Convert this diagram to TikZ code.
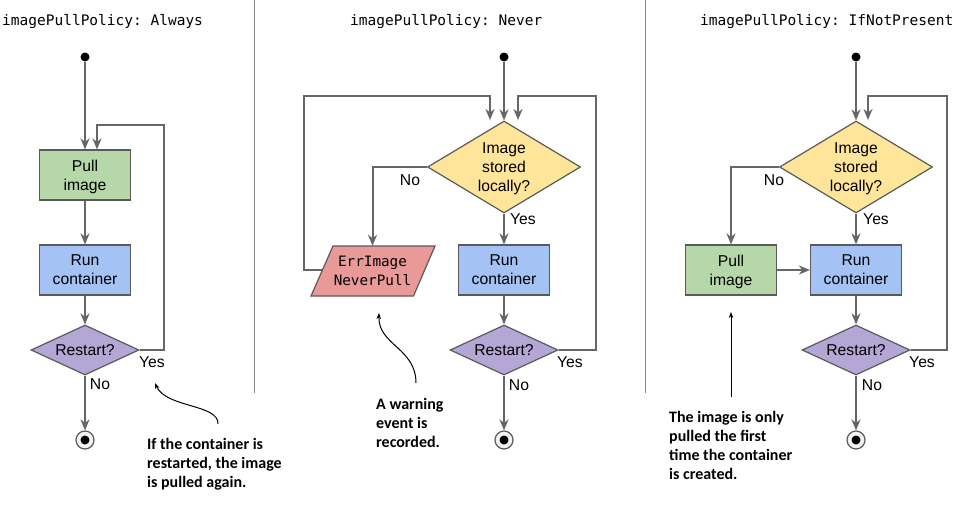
\documentclass[tikz,border=0pt]{standalone}
\usepackage{fontspec}
\setmainfont{Liberation Sans}
\newfontfamily\annfont{Carlito}
\setmonofont{DejaVu Sans Mono}
\usetikzlibrary{shapes.geometric,arrows.meta,calc,backgrounds}

\definecolor{linegray}{HTML}{666666}
\definecolor{bordergray}{HTML}{5A5A5A}
\definecolor{divgray}{HTML}{888888}
\definecolor{pullgreen}{HTML}{B6D7A8}
\definecolor{runblue}{HTML}{A4C2F4}
\definecolor{restartpurple}{HTML}{B4A7D6}
\definecolor{decyellow}{HTML}{FFE599}
\definecolor{errred}{HTML}{EA9999}
\definecolor{endfill}{HTML}{F3F3F3}

\begin{document}
\begin{tikzpicture}[x=1pt,y=-1pt,
  flow/.style={draw=linegray,line width=2pt,-{Stealth[length=11pt,width=9pt,inset=3.5pt]}},
  annarrow/.style={draw=black,line width=1pt,-{Stealth[length=6pt,width=4.5pt]}},
  labelfont/.style={font=\fontsize{15.7}{19}\selectfont},
  box/.style={rectangle,draw=bordergray,line width=1.2pt,minimum width=91pt,minimum height=50pt,inner sep=0pt,align=center,labelfont,text depth=0pt},
  dia/.style={diamond,draw=bordergray,line width=1.2pt,fill=restartpurple,shape aspect=2.16,minimum width=108pt,minimum height=50pt,inner sep=0pt,align=center,labelfont},
  ddec/.style={diamond,draw=bordergray,line width=1.2pt,fill=decyellow,shape aspect=1.66,minimum width=153pt,minimum height=92pt,inner sep=0pt,align=center,labelfont,text depth=0pt},
  startdot/.style={circle,fill=black,minimum size=9pt,inner sep=0pt},
  endc/.style={circle,draw=bordergray,line width=1.2pt,fill=endfill,minimum size=18pt,inner sep=0pt},
  lbl/.style={inner sep=0pt,labelfont},
  ann/.style={inner sep=0pt,align=left,anchor=north west,font=\annfont\bfseries\fontsize{16}{19}\selectfont},
  ptitle/.style={inner sep=0pt,anchor=west,font=\ttfamily\fontsize{14.5}{18}\selectfont},
  divider/.style={draw=divgray,line width=1pt}
]
\useasboundingbox (0,0) rectangle (960,506);

% titles and dividers
\node[ptitle] (t1) at (2,22) {imagePullPolicy: Always};
\node[ptitle] (t2) at (350,22) {imagePullPolicy: Never};
\node[ptitle] (t3) at (700,22) {imagePullPolicy: IfNotPresent};
\draw[divider] (254,0) -- (254,393);
\draw[divider] (645,0) -- (645,393);

% ---------- Panel 1 : Always ----------
\node[startdot] (s1) at (85,57) {};
\node[box,fill=pullgreen] (pull1) at (85,175) {Pull\\image};
\node[box,fill=runblue] (run1) at (85,270) {Run\\container};
\node[dia] (rs1) at (85,350) {Restart?};
\node[endc] (e1) at (85,440) {};
\fill[black] (e1.center) circle (4.5);
\coordinate (l1) at (164,125);
\draw[flow] (s1) -- (pull1);
\draw[flow] (pull1) -- (run1);
\draw[flow] (run1) -- (rs1);
\draw[flow] (rs1) -- (e1);
\draw[flow] (rs1.east) -| (l1) -| ([xshift=12pt]pull1.north);
\node[lbl] (y1) at (152,362) {Yes};
\node[lbl] (n1) at (100,384) {No};
\node[ann] (a1) at (147,438) {If the container is\\restarted, the image\\is pulled again.};
\coordinate (c1s) at (218,424);
\coordinate (c1e) at (155,383);
\draw[annarrow] (c1s) .. controls (219,404) and (166,408) .. (c1e);

% ---------- Panel 2 : Never ----------
\node[startdot] (s2) at (504,57) {};
\node[ddec] (d2) at (504,167) {Image\\stored\\locally?};
\node[inner sep=0pt,minimum width=102pt,minimum height=50pt,align=center,font=\ttfamily\fontsize{14.3}{19}\selectfont] (err) at (372.5,271) {ErrImage\\NeverPull};
\begin{scope}[on background layer]
\fill[white] (0,0) rectangle (960,506);
\filldraw[fill=errred,draw=bordergray,line width=1.2pt]
  ($(err.center)+(-39.5,-25)$) -- ($(err.center)+(62.5,-25)$) -- ($(err.center)+(41,25)$) -- ($(err.center)+(-61.5,25)$) -- cycle;
\end{scope}
\node[box,fill=runblue] (run2) at (504,270) {Run\\container};
\node[dia] (rs2) at (504,350) {Restart?};
\node[endc] (e2) at (504,440) {};
\fill[black] (e2.center) circle (4.5);
\coordinate (errL) at (322,270);
\coordinate (l2a) at (304,96);
\coordinate (l2b) at (490,120);
\coordinate (l2c) at (596,96);
\coordinate (l2d) at (518,120);
\draw[flow] (s2) -- (d2);
\draw[flow] (d2.west) -| (err.north);
\draw[flow] (d2) -- (run2);
\draw[flow] (run2) -- (rs2);
\draw[flow] (rs2) -- (e2);
\draw[flow] (errL) -| (l2a) -| (l2b);
\draw[flow] (rs2.east) -| (l2c) -| (l2d);
\node[lbl] (n2a) at (410,180) {No};
\node[lbl] (y2a) at (523,219) {Yes};
\node[lbl] (y2b) at (570,362) {Yes};
\node[lbl] (n2b) at (519,385) {No};
\node[ann] (a2) at (376,398) {A warning\\event is\\recorded.};
\coordinate (c2s) at (416,383);
\coordinate (c2e) at (379,313);
\draw[annarrow] (c2s) .. controls (416,348) and (378,345) .. (c2e);

% ---------- Panel 3 : IfNotPresent ----------
\node[startdot] (s3) at (856,57) {};
\node[ddec] (d3) at (856,167) {Image\\stored\\locally?};
\node[box,fill=pullgreen] (pull3) at (731,270) {Pull\\image};
\node[box,fill=runblue] (run3) at (856,270) {Run\\container};
\node[dia] (rs3) at (856,350) {Restart?};
\node[endc] (e3) at (856,440) {};
\fill[black] (e3.center) circle (4.5);
\coordinate (l3a) at (947,96);
\coordinate (l3b) at (868,120);
\draw[flow] (s3) -- (d3);
\draw[flow] (d3.west) -| (pull3.north);
\draw[flow] (d3) -- (run3);
\draw[flow] (pull3) -- (run3);
\draw[flow] (run3) -- (rs3);
\draw[flow] (rs3) -- (e3);
\draw[flow] (rs3.east) -| (l3a) -| (l3b);
\node[lbl] (n3a) at (774,180) {No};
\node[lbl] (y3a) at (876,219) {Yes};
\node[lbl] (y3b) at (922,362) {Yes};
\node[lbl] (n3b) at (872,385) {No};
\node[ann] (a3) at (669,411) {The image is only\\pulled the first\\time the container\\is created.};
\coordinate (c3s) at (731,397);
\coordinate (c3e) at (731,312);
\draw[annarrow] (c3s) -- (c3e);
\end{tikzpicture}
\end{document}
